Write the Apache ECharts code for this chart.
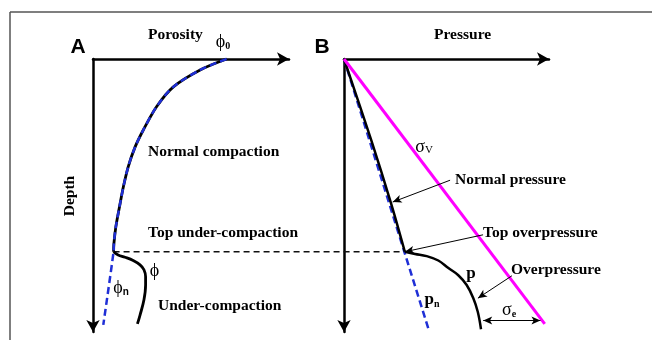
<!DOCTYPE html>
<html>
<head>
<meta charset="utf-8">
<script src="https://cdn.jsdelivr.net/npm/echarts@6/dist/echarts.min.js"></script>
<style>
html, body { margin: 0; padding: 0; background: #fff; }
#chart { width: 652px; height: 340px; }
</style>
</head>
<body>
<div id="chart"></div>
<script>
// ---- Panel A: porosity (%) against depth (km) ----
const porosityMax = 60;
const depthMax = 5;
const topDepth = 3.53; // top of under-compaction / overpressure
const normalCompaction = [[40.9, 0], [32.8, 0.20], [24.6, 0.51], [19.5, 0.87], [15.4, 1.30], [12.9, 1.61], [10.8, 1.97], [9.3, 2.34], [8.1, 2.71], [7.0, 3.07], [6.4, 3.38], [6.3, 3.53]];
const phiNormalTrend = [[40.9, 0], [32.8, 0.20], [24.6, 0.51], [19.5, 0.87], [15.4, 1.30], [12.9, 1.61], [10.8, 1.97], [9.3, 2.34], [8.1, 2.71], [7.0, 3.07], [6.4, 3.38], [6.3, 3.53], [3.15, 4.87]];
const phiUnderCompacted = [[6.3, 3.53], [7.7, 3.59], [9.8, 3.63], [12.3, 3.69], [14.4, 3.77], [15.6, 3.86], [16.1, 3.99], [16.1, 4.14], [15.6, 4.41], [14.4, 4.69], [13.6, 4.85]];

// ---- Panel B: pressure (MPa) against depth (km) ----
const pressureMax = 120;
const sigmaV = [[0, 0], [117.5, 4.85]];
const pHydro = [[0, 0], [49.6, 4.96]];
const pNormal = [[0, 0], [15.9, 1.48], [27.5, 2.64], [35.6, 3.53]];
const pOver = [[35.6, 3.53], [41.6, 3.57], [48.4, 3.61], [55.2, 3.69], [61.1, 3.83], [66.9, 3.96], [71.8, 4.14], [75.7, 4.38], [78.3, 4.63], [80.2, 4.95]];

// annotation arrows [from, to] in pressure/depth units
const arrowNormalPressure = [[62.1, 2.22], [28.5, 2.62]];
const arrowTopOverpressure = [[81.4, 3.22], [35.7, 3.53]];
const arrowOverpressure = [[98.3, 3.97], [78.4, 4.38]];
const sigmaEffective = [[81.5, 4.79], [115.0, 4.79]];

const SERIF = '"Liberation Serif", "Times New Roman", serif';
const BLUE = '#1f2fd6';
const MAGENTA = '#ff00ff';

const chart = echarts.init(document.getElementById('chart'), null, { renderer: 'canvas' });

function axisPair(max, gridIndex) {
  const lineStyle = { color: '#000', width: 2.5 };
  return {
    x: {
      type: 'value', gridIndex, min: 0, max, position: 'top',
      axisLine: { show: true, symbol: ['none', 'arrow'], symbolSize: [10, 12], lineStyle },
      axisTick: { show: false }, axisLabel: { show: false }, splitLine: { show: false }
    },
    y: {
      type: 'value', gridIndex, min: 0, max: depthMax, inverse: true,
      axisLine: { show: true, symbol: ['arrow', 'none'], symbolSize: [10, 12], lineStyle },
      axisTick: { show: false }, axisLabel: { show: false }, splitLine: { show: false }
    }
  };
}
const axA = axisPair(porosityMax, 0);
const axB = axisPair(pressureMax, 1);

function curve(name, data, gi, color, width, dashed, smooth) {
  return {
    name, type: 'line', xAxisIndex: gi, yAxisIndex: gi, data,
    smooth: smooth, symbol: 'none', silent: true, clip: false,
    lineStyle: { color, width, type: dashed ? [7, 4] : 'solid', cap: 'butt' },
    z: 3
  };
}

function arrowLines(pairs, bothEnds) {
  return {
    silent: true, animation: false,
    symbol: bothEnds ? ['arrow', 'arrow'] : ['none', 'arrow'],
    symbolSize: [6, 9],
    label: { show: false },
    lineStyle: { color: '#000', width: 1, type: 'solid' },
    emphasis: { disabled: true },
    data: pairs.map(p => [{ coord: p[0] }, { coord: p[1] }])
  };
}

function txt(x, y, text, opts) {
  return {
    type: 'text', x, y, silent: true, z: 10,
    style: Object.assign({
      text, font: 'bold 15.5px ' + SERIF, fill: '#000',
      textAlign: 'left', textVerticalAlign: 'middle'
    }, opts || {})
  };
}

function subText(x, y, main, sub, mainFont, subFont) {
  return {
    type: 'text', x, y, silent: true, z: 10,
    style: {
      text: '{m|' + main + '}{s|' + sub + '}',
      textAlign: 'center', textVerticalAlign: 'middle',
      rich: {
        m: { font: mainFont, fill: '#000', lineHeight: 18, verticalAlign: 'middle' },
        s: { font: subFont, fill: '#000', lineHeight: 18, verticalAlign: 'bottom' }
      }
    }
  };
}

const graphics = [
  // frame
  { type: 'line', silent: true, shape: { x1: 10, y1: 12, x2: 652, y2: 12 }, style: { stroke: '#555', lineWidth: 1.5 } },
  { type: 'line', silent: true, shape: { x1: 10, y1: 12, x2: 10, y2: 340 }, style: { stroke: '#555', lineWidth: 1.5 } },
  // panel letters
  txt(78, 47, 'A', { font: 'bold 21px "Liberation Sans", Arial, sans-serif', textAlign: 'center' }),
  txt(322, 47, 'B', { font: 'bold 21px "Liberation Sans", Arial, sans-serif', textAlign: 'center' }),
  // axis titles
  txt(148, 35, 'Porosity'),
  txt(434, 35, 'Pressure'),
  { type: 'text', x: 70, y: 196, rotation: Math.PI / 2, silent: true, z: 10,
    style: { text: 'Depth', font: 'bold 15.5px ' + SERIF, fill: '#000', textAlign: 'center', textVerticalAlign: 'middle' } },
  // panel A labels
  subText(223, 42, 'ϕ', '0', '18px ' + SERIF, 'bold 10px ' + SERIF),
  txt(148, 152, 'Normal compaction'),
  txt(148, 233, 'Top under-compaction'),
  txt(154.5, 271, 'ϕ', { font: '18px ' + SERIF, textAlign: 'center' }),
  subText(121, 288, 'ϕ', 'n', '18px ' + SERIF, 'bold 10px "Liberation Sans", Arial, sans-serif'),
  txt(158, 306, 'Under-compaction'),
  // panel B labels
  subText(424, 147, 'σ', 'V', '18px ' + SERIF, '11px ' + SERIF),
  txt(455, 180, 'Normal pressure'),
  txt(483, 233, 'Top overpressure'),
  txt(471, 274, 'p', { font: 'bold 17px ' + SERIF, textAlign: 'center' }),
  subText(432, 300, 'p', 'n', 'bold 17px ' + SERIF, 'bold 10px ' + SERIF),
  txt(511, 270, 'Overpressure'),
  subText(509, 310, 'σ', 'e', '18px ' + SERIF, 'bold 10px ' + SERIF)
];

function buildOption(extraGraphics) {
  const pOverSeries = curve('p', pOver, 1, '#000', 2.5, false, 0.4);
  pOverSeries.markLine = arrowLines([arrowNormalPressure, arrowTopOverpressure, arrowOverpressure], false);
  const pHydroSeries = curve('pn', pHydro, 1, BLUE, 2.5, true, false);
  pHydroSeries.markLine = arrowLines([sigmaEffective], true);
  return {
    animation: false,
    backgroundColor: '#fff',
    grid: [
      { left: 93, top: 59, width: 196, height: 273 },
      { left: 344, top: 59, width: 205, height: 273 }
    ],
    xAxis: [axA.x, axB.x],
    yAxis: [axA.y, axB.y],
    series: [
      curve('phi normal', normalCompaction, 0, '#000', 2.8, false, 0.3),
      curve('phi', phiUnderCompacted, 0, '#000', 2.8, false, 0.4),
      curve('phi n', phiNormalTrend, 0, BLUE, 2.5, true, 0.3),
      pHydroSeries,
      curve('p normal', pNormal, 1, '#000', 2.5, false, 0.3),
      pOverSeries,
      curve('sigma v', sigmaV, 1, MAGENTA, 3, false, false)
    ],
    graphic: graphics.concat(extraGraphics)
  };
}

// set up both coordinate systems, then join the two kinks with the dashed depth marker
chart.setOption(buildOption([]));
const kinkA = chart.convertToPixel({ gridIndex: 0 }, [phiUnderCompacted[0][0], topDepth]);
const kinkB = chart.convertToPixel({ gridIndex: 1 }, [pNormal[pNormal.length - 1][0], topDepth]);
chart.setOption(buildOption([{
  type: 'line', silent: true, z: 2,
  shape: { x1: kinkA[0], y1: kinkA[1], x2: kinkB[0], y2: kinkB[1] },
  style: { stroke: '#111', lineWidth: 1.4, lineDash: [6, 4] }
}]), true);
</script>
</body>
</html>
